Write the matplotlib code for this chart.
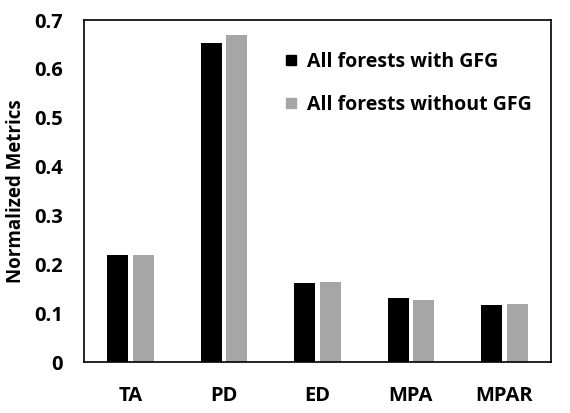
import matplotlib.pyplot as plt
from matplotlib.lines import Line2D
import numpy as np

plt.rcParams['font.family'] = ['Open Sans', 'DejaVu Sans']

categories = ["TA", "PD", "ED", "MPA", "MPAR"]
with_gfg = [0.220, 0.652, 0.162, 0.131, 0.117]
without_gfg = [0.220, 0.669, 0.164, 0.126, 0.119]
series_names = ["All forests with GFG", "All forests without GFG"]
series_colors = ["black", "#a6a6a6"]

fig = plt.figure(figsize=(5.7, 4.13), dpi=100)
ax = fig.add_axes([84/570, 1-362/413, (551-84)/570, (362-20)/413])

x = np.arange(len(categories))
w = 0.225
ax.bar(x-0.138, with_gfg, w, color=series_colors[0])
ax.bar(x+0.138, without_gfg, w, color=series_colors[1])

ax.set_xlim(-0.5, len(categories)-0.5)
ax.set_ylim(0, 0.7)
ax.set_yticks(np.arange(0, 0.71, 0.1))
ax.set_yticklabels(["0"] + [f"{v:.1f}" for v in np.arange(0.1, 0.71, 0.1)])
ax.set_xticks(x)
ax.set_xticklabels(categories)
ax.tick_params(length=0)
ax.tick_params(axis="y", pad=15, labelsize=14.5)
ax.tick_params(axis="x", pad=17, labelsize=14.5)
for lab in ax.get_xticklabels() + ax.get_yticklabels():
    lab.set_fontweight("bold")
for s in ax.spines.values():
    s.set_linewidth(1.2)

ax.set_ylabel("Normalized Metrics", fontsize=13.5, fontweight="bold", labelpad=6)

handles = [Line2D([], [], marker="s", linestyle="None", color=c, markersize=6.5)
           for c in series_colors]
ax.legend(handles, series_names, loc="upper left", bbox_to_anchor=(0.41, 0.935),
          frameon=False, prop={"size": 14, "weight": "bold"}, handlelength=0.6,
          handletextpad=0.5, labelspacing=1.2, borderpad=0)

plt.savefig("out.png")
